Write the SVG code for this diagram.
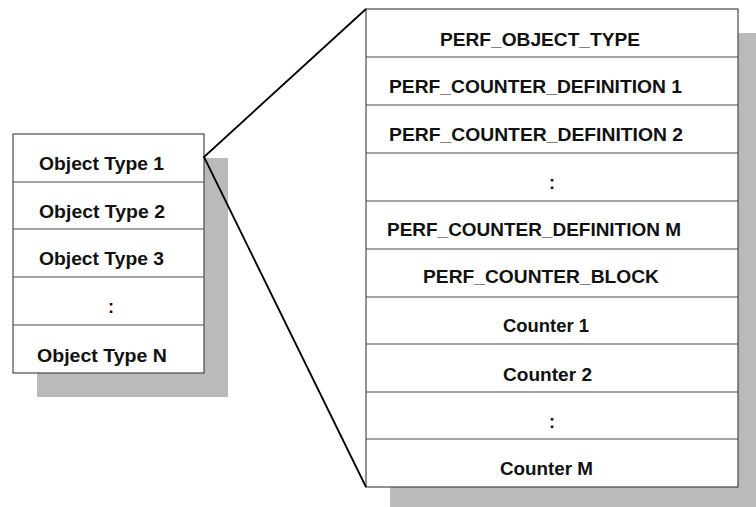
<svg xmlns="http://www.w3.org/2000/svg" width="756" height="507" viewBox="0 0 756 507">
<style>
.shadow{fill:#bababa}
.box{fill:#fff;stroke:#3a3a3a;stroke-width:1.1}
.div{stroke:#4a4a4a;stroke-width:1.1}
.t{font-family:"Liberation Sans",Arial,sans-serif;font-weight:bold;font-size:18px;fill:#111}
.c{text-anchor:middle}
.conn{stroke:#000;stroke-width:1.8;fill:none}
</style>
<rect width="756" height="507" fill="#fff"/>
<g id="objectList">
<rect class="shadow" x="37" y="158" width="191" height="239"/>
<rect class="box" x="13" y="134" width="191" height="239"/>
<line class="div" x1="13" y1="182" x2="204" y2="182"/>
<line class="div" x1="13" y1="229" x2="204" y2="229"/>
<line class="div" x1="13" y1="277" x2="204" y2="277"/>
<line class="div" x1="13" y1="325" x2="204" y2="325"/>
</g>
<g id="ot1"><text class="t" x="39" y="169.5" textLength="125" lengthAdjust="spacingAndGlyphs">Object Type 1</text></g>
<g id="ot2"><text class="t" x="39" y="217.5" textLength="126" lengthAdjust="spacingAndGlyphs">Object Type 2</text></g>
<g id="ot3"><text class="t" x="39" y="264.5" textLength="125" lengthAdjust="spacingAndGlyphs">Object Type 3</text></g>
<g id="otdots"><text class="t c" x="111" y="312.5">:</text></g>
<g id="otN"><text class="t" x="37" y="361.5" textLength="130" lengthAdjust="spacingAndGlyphs">Object Type N</text></g>

<g id="objectDetail">
<rect class="shadow" x="390" y="33" width="372" height="478"/>
<rect class="box" x="366" y="9" width="372" height="478"/>
<line class="div" x1="366" y1="57" x2="738" y2="57"/>
<line class="div" x1="366" y1="105" x2="738" y2="105"/>
<line class="div" x1="366" y1="153" x2="738" y2="153"/>
<line class="div" x1="366" y1="201" x2="738" y2="201"/>
<line class="div" x1="366" y1="249" x2="738" y2="249"/>
<line class="div" x1="366" y1="297" x2="738" y2="297"/>
<line class="div" x1="366" y1="344" x2="738" y2="344"/>
<line class="div" x1="366" y1="392" x2="738" y2="392"/>
<line class="div" x1="366" y1="439" x2="738" y2="439"/>
</g>
<g id="r1"><text class="t" x="440" y="45.5" textLength="200" lengthAdjust="spacingAndGlyphs">PERF_OBJECT_TYPE</text></g>
<g id="r2"><text class="t" x="389" y="92.5" textLength="293" lengthAdjust="spacingAndGlyphs">PERF_COUNTER_DEFINITION 1</text></g>
<g id="r3"><text class="t" x="389" y="140.5" textLength="294" lengthAdjust="spacingAndGlyphs">PERF_COUNTER_DEFINITION 2</text></g>
<g id="r4"><text class="t c" x="552" y="188.5">:</text></g>
<g id="r5"><text class="t" x="387" y="235.5" textLength="294" lengthAdjust="spacingAndGlyphs">PERF_COUNTER_DEFINITION M</text></g>
<g id="r6"><text class="t" x="423" y="282.5" textLength="236" lengthAdjust="spacingAndGlyphs">PERF_COUNTER_BLOCK</text></g>
<g id="r7"><text class="t" x="503" y="332" textLength="86" lengthAdjust="spacingAndGlyphs">Counter 1</text></g>
<g id="r8"><text class="t" x="503" y="380.5" textLength="89" lengthAdjust="spacingAndGlyphs">Counter 2</text></g>
<g id="r9"><text class="t c" x="552" y="427.5">:</text></g>
<g id="r10"><text class="t" x="500" y="474.5" textLength="93" lengthAdjust="spacingAndGlyphs">Counter M</text></g>

<g id="connectors">
<polyline class="conn" points="366,9 204,157 366,487"/>
</g>
</svg>
